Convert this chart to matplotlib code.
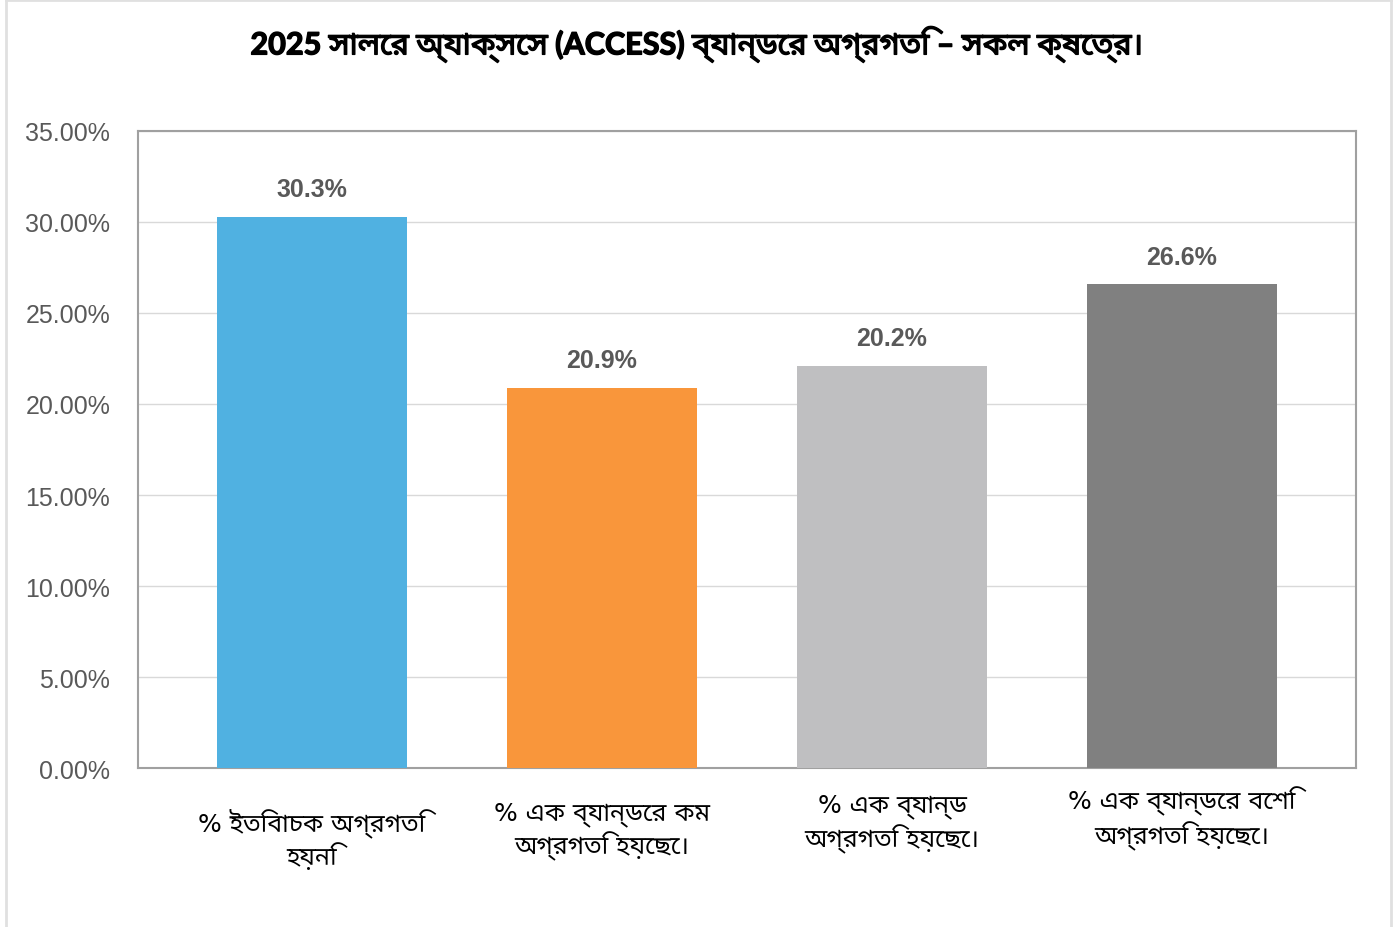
import matplotlib
matplotlib.use("Agg")
from matplotlib import pyplot as plt
from matplotlib import font_manager as fm
from matplotlib import patheffects as pe
from matplotlib.ft2font import FT2Font
from matplotlib.lines import Line2D

title = "2025 সালের অ্যাক্সেস (ACCESS) ব্যান্ডের অগ্রগতি – সকল ক্ষেত্র।"
categories = [
    "% ইতিবাচক অগ্রগতি\nহয়নি",
    "% এক ব্যান্ডের কম\nঅগ্রগতি হয়েছে।",
    "% এক ব্যান্ড\nঅগ্রগতি হয়েছে।",
    "% এক ব্যান্ডের বেশি\nঅগ্রগতি হয়েছে।",
]
values = [30.3, 20.9, 22.1, 26.6]
value_labels = ["30.3%", "20.9%", "20.2%", "26.6%"]
colors = ["#50B1E1", "#F9963B", "#BFBFC1", "#808080"]
yticks = [0, 5, 10, 15, 20, 25, 30, 35]


def score(name):
    s = 0
    if "Noto" in name:
        s += 4
    if "Bengali" in name:
        s += 3
    if "Sans" in name:
        s += 1
    if "Lohit" in name:
        s += 2
    if "Mono" in name:
        s -= 10
    if "Serif" in name:
        s -= 1
    return s


def find_bengali_font():
    # pick the best installed font that has Bengali glyphs
    found = {}
    for f in fm.fontManager.ttflist:
        if f.name in found:
            continue
        try:
            cmap = FT2Font(f.fname).get_charmap()
        except Exception:
            continue
        if 0x0985 in cmap and 0x09CD in cmap:
            found[f.name] = score(f.name)
    if not found:
        return None
    return max(found, key=found.get)


bn = find_bengali_font()
title_family = ["Lato", bn] if bn else ["Lato"]
label_family = ["DejaVu Sans", bn] if bn else ["DejaVu Sans"]
num_family = ["Liberation Sans", "DejaVu Sans"]

fig = plt.figure(figsize=(13.93, 9.28), dpi=100)
ax = fig.add_axes([0.099, 0.1713, 0.8745, 0.6865])

x = list(range(len(values)))
bars = ax.bar(x, values, width=0.655, color=colors, zorder=3)

ax.set_xlim(-0.6, 3.6)
ax.set_ylim(0, 35)
ax.set_yticks(yticks)
ax.set_yticklabels([f"{v:.2f}%" for v in yticks], family=num_family,
                   fontsize=18, color="#595959")
ax.tick_params(axis="y", length=0, pad=20)
ax.set_xticks([])
ax.grid(axis="y", color="#D9D9D9", linewidth=1, zorder=0)
for s in ax.spines.values():
    s.set_color("#A0A0A0")
    s.set_linewidth(1.5)

for b, lab in zip(bars, value_labels):
    ax.annotate(lab, (b.get_x() + b.get_width() / 2, b.get_height()),
                xytext=(0, 11), textcoords="offset points", ha="center",
                va="bottom", fontsize=18, fontweight="bold", color="#595959",
                family=num_family)

# category labels sit at slightly different heights, as in the original
label_y = [-0.061, -0.052, -0.04, -0.028]
for xi, cat, ly in zip(x, categories, label_y):
    ax.text(xi, ly, cat, transform=ax.get_xaxis_transform(), ha="center",
            va="top", fontsize=18, color="black", family=label_family,
            linespacing=1.22)

# the Bengali font has no bold face, so thicken the title with a stroke
fig.text(0.5, 0.951, title, ha="center", va="center", fontsize=22,
         fontweight="bold", family=title_family,
         path_effects=[pe.withStroke(linewidth=1.0, foreground="black")])

# faint outer frame
fig.add_artist(Line2D([0.0045, 0.0045], [0, 0.999], transform=fig.transFigure,
                      color="#E0E0E0", linewidth=2))
fig.add_artist(Line2D([0.0045, 0.9985], [0.999, 0.999], transform=fig.transFigure,
                      color="#E0E0E0", linewidth=2))
fig.add_artist(Line2D([0.9985, 0.9985], [0, 0.999], transform=fig.transFigure,
                      color="#E0E0E0", linewidth=2))

fig.savefig("out.png", dpi=100)
